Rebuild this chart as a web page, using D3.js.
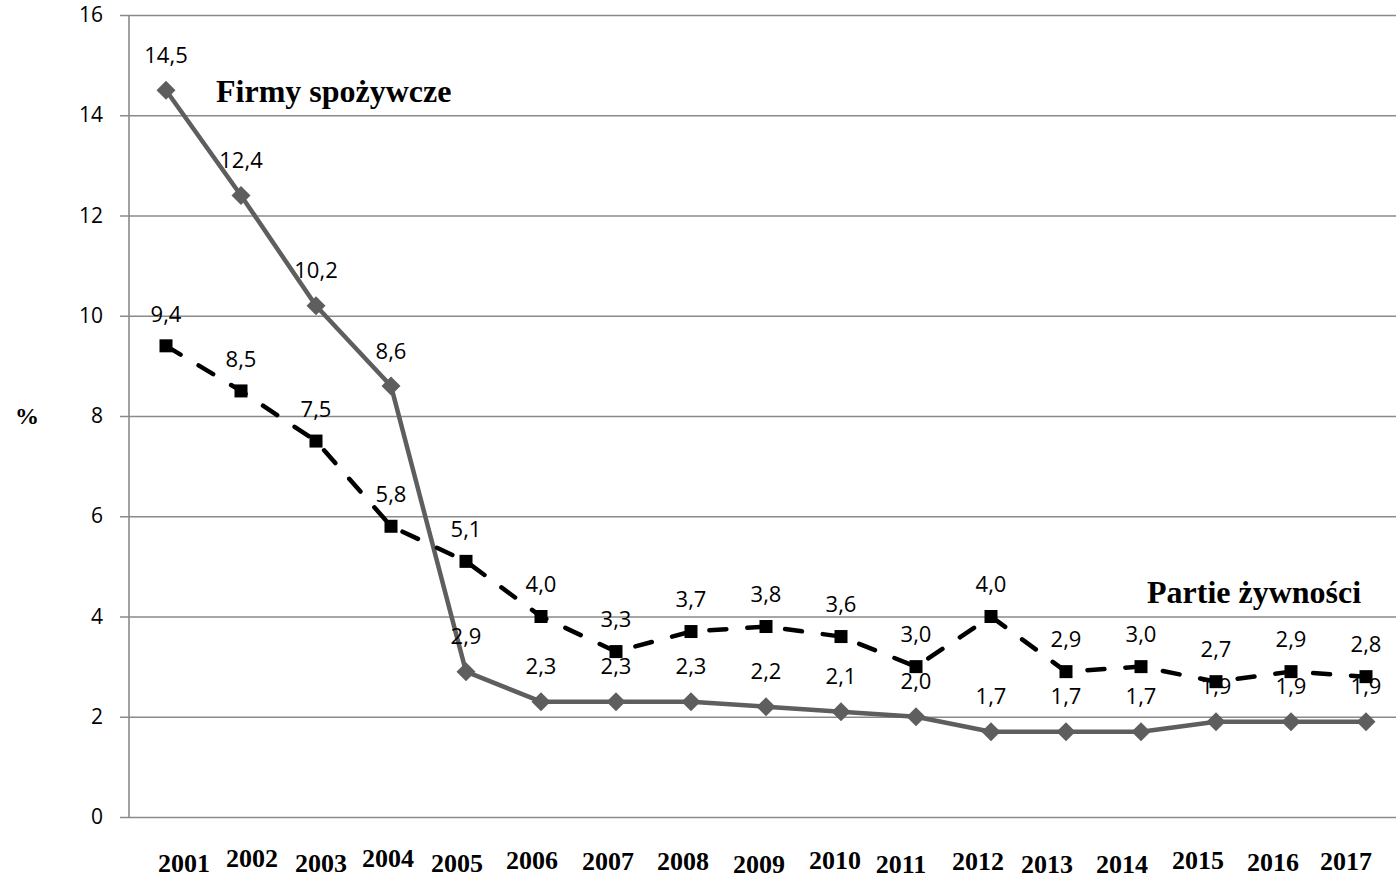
<!DOCTYPE html>
<html>
<head>
<meta charset="utf-8">
<script src="https://cdn.jsdelivr.net/npm/d3@7"></script>
<style>
  html, body { margin: 0; padding: 0; background: #fff; }
  svg { display: block; }
</style>
</head>
<body>
<svg id="chart" width="1396" height="879"></svg>
<script>
// Years on the horizontal axis
const years = ["2001","2002","2003","2004","2005","2006","2007","2008","2009",
               "2010","2011","2012","2013","2014","2015","2016","2017"];

// Share (%) – food companies
const firmyValues = [14.5, 12.4, 10.2, 8.6, 2.9, 2.3, 2.3, 2.3, 2.2, 2.1, 2.0, 1.7, 1.7, 1.7, 1.9, 1.9, 1.9];
// Share (%) – food batches
const partieValues = [9.4, 8.5, 7.5, 5.8, 5.1, 4.0, 3.3, 3.7, 3.8, 3.6, 3.0, 4.0, 2.9, 3.0, 2.7, 2.9, 2.8];

const yTicks = [0, 2, 4, 6, 8, 10, 12, 14, 16];

const seriesNames = ["Firmy spożywcze", "Partie żywności"];

// Hand-placed offsets of the year captions (dx from the category centre, baseline y)
const yearLabelDx = [18, 11, 5, -3, -9, -9, -8, -8, -7, -6, -15, -13, -19, -19, -18, -18, -20];
const yearLabelBaseline = [872, 867, 872, 867, 872, 869, 870, 870, 873, 869, 873, 870, 873, 873, 869, 871, 870];

const svg = d3.select("#chart");
const fmt = v => d3.format(".1f")(v).replace(".", ",");

const x = d3.scaleBand().domain(years).range([128.5, 1403.5]).padding(0);
const cx = d => x(d) + x.bandwidth() / 2;
const y = d3.scaleLinear().domain([0, 16]).range([817, 15]);

const gridColor = "#8a8a8a";
const numFont = "'Open Sans', 'Noto Sans', sans-serif";
const serif = "'Liberation Serif', 'Times New Roman', serif";

// Horizontal gridlines + ticks
const yAxis = d3.axisLeft(y).tickValues(yTicks).tickSize(-(1396 - 129)).tickFormat(d3.format("d"));
const gy = svg.append("g").attr("transform", "translate(129,0)").call(yAxis);
gy.select(".domain").remove();
gy.selectAll(".tick line").attr("stroke", gridColor).attr("stroke-width", 1.6).attr("x1", -9);
gy.selectAll(".tick text")
  .attr("font-family", numFont).attr("font-size", 21).attr("fill", "#000")
  .attr("x", -26);

// Vertical axis line
svg.append("line")
  .attr("x1", 129).attr("x2", 129).attr("y1", y(16)).attr("y2", y(0))
  .attr("stroke", gridColor).attr("stroke-width", 1.6);

// Year captions
svg.append("g").selectAll("text").data(years).join("text")
  .attr("x", (d, i) => cx(d) + yearLabelDx[i])
  .attr("y", (d, i) => yearLabelBaseline[i])
  .attr("text-anchor", "middle")
  .attr("font-family", serif).attr("font-weight", "bold").attr("font-size", 26)
  .attr("fill", "#000")
  .text(d => d);

// Unit label
svg.append("text")
  .attr("x", 27).attr("y", 424).attr("text-anchor", "middle")
  .attr("font-family", serif).attr("font-weight", "bold").attr("font-size", 24)
  .text("%");

const firmy = years.map((d, i) => ({ year: d, value: firmyValues[i] }));
const partie = years.map((d, i) => ({ year: d, value: partieValues[i] }));

const line = d3.line().x(d => cx(d.year)).y(d => y(d.value));

// Series 1: food companies (solid grey, diamonds)
svg.append("path").datum(firmy)
  .attr("d", line).attr("fill", "none")
  .attr("stroke", "#5e5e5e").attr("stroke-width", 4.5).attr("stroke-linejoin", "round");

svg.append("g").selectAll("path").data(firmy).join("path")
  .attr("transform", d => `translate(${cx(d.year)},${y(d.value)})`)
  .attr("d", "M0,-9.5L9.5,0L0,9.5L-9.5,0Z")
  .attr("fill", "#5e5e5e");

svg.append("g").selectAll("text").data(firmy).join("text")
  .attr("x", d => cx(d.year)).attr("y", d => y(d.value) - 35)
  .attr("dy", "0.35em").attr("text-anchor", "middle")
  .attr("font-family", numFont).attr("font-size", 22).attr("fill", "#000")
  .text(d => fmt(d.value));

// Series 2: food batches (dashed black, squares)
svg.append("path").datum(partie)
  .attr("d", line).attr("fill", "none")
  .attr("stroke", "#000").attr("stroke-width", 4.5)
  .attr("stroke-dasharray", "17,21").attr("stroke-linecap", "round");

svg.append("g").selectAll("rect").data(partie).join("rect")
  .attr("x", d => cx(d.year) - 6.5).attr("y", d => y(d.value) - 6.5)
  .attr("width", 13).attr("height", 13).attr("fill", "#000");

svg.append("g").selectAll("text").data(partie).join("text")
  .attr("x", d => cx(d.year)).attr("y", d => y(d.value) - 32)
  .attr("dy", "0.35em").attr("text-anchor", "middle")
  .attr("font-family", numFont).attr("font-size", 22).attr("fill", "#000")
  .text(d => fmt(d.value));

// Series names
svg.append("text")
  .attr("x", 216).attr("y", 102)
  .attr("font-family", serif).attr("font-weight", "bold").attr("font-size", 32)
  .text(seriesNames[0]);

svg.append("text")
  .attr("x", 1147).attr("y", 603)
  .attr("font-family", serif).attr("font-weight", "bold").attr("font-size", 32)
  .text(seriesNames[1]);
</script>
</body>
</html>
